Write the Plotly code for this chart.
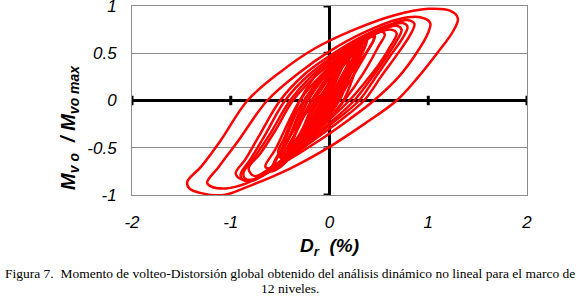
import plotly.graph_objects as go

# ---- data: hysteresis loops (Dr %, Mvo/Mvo max) ----
LOOP1_X = [-1.44, -1.30, -1.10, -0.83, -0.50, -0.15, 0.25, 0.65, 1.00, 1.22, 1.30, 1.25, 1.09, 0.90, 0.68, 0.35, 0.00, -0.40, -0.80, -1.07, -1.30, -1.42, -1.44]
LOOP1_Y = [-0.86, -0.70, -0.42, 0.00, 0.30, 0.55, 0.75, 0.90, 0.97, 0.95, 0.87, 0.73, 0.50, 0.25, 0.00, -0.25, -0.49, -0.72, -0.90, -1.00, -0.98, -0.93, -0.86]

LOOP2_X = [-1.24, -1.12, -0.92, -0.63, -0.30, 0.00, 0.35, 0.70, 0.92, 1.02, 1.00, 0.88, 0.70, 0.45, 0.20, -0.10, -0.50, -0.85, -1.05, -1.20, -1.24]
LOOP2_Y = [-0.87, -0.70, -0.42, 0.00, 0.30, 0.52, 0.72, 0.86, 0.88, 0.82, 0.72, 0.50, 0.25, 0.00, -0.20, -0.42, -0.68, -0.88, -0.93, -0.91, -0.87]

LOOP3_X = [-0.95, -0.85, -0.70, -0.50, -0.25, 0.00, 0.30, 0.60, 0.80, 0.86, 0.82, 0.68, 0.52, 0.35, 0.10, -0.20, -0.50, -0.75, -0.90, -0.95]
LOOP3_Y = [-0.77, -0.62, -0.35, 0.00, 0.28, 0.47, 0.66, 0.80, 0.85, 0.81, 0.70, 0.48, 0.25, 0.00, -0.22, -0.45, -0.68, -0.83, -0.83, -0.77]

LOOP4_X = [-0.90, -0.80, -0.65, -0.45, -0.20, 0.00, 0.28, 0.55, 0.74, 0.79, 0.74, 0.60, 0.45, 0.30, 0.05, -0.25, -0.55, -0.78, -0.88, -0.90]
LOOP4_Y = [-0.78, -0.62, -0.36, 0.00, 0.28, 0.44, 0.64, 0.77, 0.82, 0.78, 0.66, 0.45, 0.22, 0.00, -0.22, -0.47, -0.70, -0.85, -0.84, -0.78]

LOOP5_X = [-0.87, -0.76, -0.60, -0.40, -0.18, 0.00, 0.25, 0.50, 0.68, 0.73, 0.68, 0.55, 0.40, 0.25, 0.00, -0.30, -0.58, -0.78, -0.86, -0.87]
LOOP5_Y = [-0.76, -0.60, -0.35, 0.00, 0.26, 0.41, 0.60, 0.74, 0.79, 0.75, 0.63, 0.42, 0.20, 0.00, -0.24, -0.50, -0.72, -0.84, -0.82, -0.76]

LOOP6_X = [-0.82, -0.70, -0.55, -0.37, -0.15, 0.00, 0.22, 0.45, 0.62, 0.68, 0.62, 0.50, 0.35, 0.20, -0.05, -0.32, -0.58, -0.76, -0.82]
LOOP6_Y = [-0.72, -0.56, -0.32, 0.00, 0.25, 0.38, 0.56, 0.70, 0.75, 0.71, 0.58, 0.38, 0.18, 0.00, -0.25, -0.50, -0.70, -0.80, -0.72]

LOOP7_X = [-0.65, -0.55, -0.30, -0.10, 0.10, 0.35, 0.52, 0.56, 0.50, 0.35, 0.15, -0.10, -0.40, -0.60, -0.65]
LOOP7_Y = [-0.70, -0.52, 0.00, 0.25, 0.42, 0.62, 0.73, 0.70, 0.58, 0.30, 0.00, -0.30, -0.58, -0.72, -0.70]

LOOP8_X = [-0.55, -0.45, -0.22, -0.05, 0.12, 0.30, 0.43, 0.46, 0.40, 0.25, 0.08, -0.12, -0.38, -0.52, -0.55]
LOOP8_Y = [-0.66, -0.48, 0.00, 0.25, 0.43, 0.60, 0.70, 0.68, 0.55, 0.28, 0.00, -0.28, -0.55, -0.68, -0.66]

LOOP9_X = [-0.48, -0.38, -0.18, 0.00, 0.15, 0.30, 0.38, 0.34, 0.20, 0.05, -0.12, -0.32, -0.45, -0.48]
LOOP9_Y = [-0.60, -0.42, 0.00, 0.28, 0.46, 0.60, 0.64, 0.52, 0.25, 0.00, -0.25, -0.50, -0.62, -0.60]

LOOP10_X = [-0.42, -0.30, -0.12, 0.02, 0.18, 0.30, 0.33, 0.26, 0.12, 0.00, -0.15, -0.32, -0.42]
LOOP10_Y = [-0.55, -0.35, 0.00, 0.22, 0.45, 0.58, 0.56, 0.40, 0.15, -0.02, -0.25, -0.48, -0.55]

LOOP11_X = [-0.35, -0.25, -0.08, 0.08, 0.20, 0.26, 0.20, 0.05, -0.08, -0.22, -0.34, -0.35]
LOOP11_Y = [-0.50, -0.32, 0.00, 0.28, 0.45, 0.50, 0.38, 0.10, -0.10, -0.32, -0.48, -0.50]

LOOP12_X = [-0.28, -0.18, -0.04, 0.08, 0.18, 0.20, 0.12, 0.00, -0.12, -0.24, -0.28]
LOOP12_Y = [-0.42, -0.22, 0.05, 0.28, 0.42, 0.43, 0.25, 0.02, -0.20, -0.38, -0.42]

LOOP13_X = [-0.22, -0.14, -0.02, 0.06, 0.12, 0.13, 0.06, -0.04, -0.14, -0.21, -0.22]
LOOP13_Y = [-0.35, -0.18, 0.05, 0.22, 0.33, 0.35, 0.20, 0.00, -0.17, -0.31, -0.35]

LOOP14_X = [-0.15, -0.08, 0.00, 0.06, 0.09, 0.04, -0.04, -0.12, -0.15]
LOOP14_Y = [-0.25, -0.10, 0.08, 0.22, 0.28, 0.15, -0.02, -0.20, -0.25]

LOOP15_X = [-0.60, -0.50, -0.35, -0.15, 0.05, 0.10, 0.02, -0.15, -0.35, -0.52, -0.60]
LOOP15_Y = [-0.75, -0.55, -0.30, -0.02, 0.18, 0.15, -0.05, -0.30, -0.55, -0.72, -0.75]

LOOP16_X = [-0.10, 0.00, 0.15, 0.30, 0.42, 0.45, 0.38, 0.22, 0.08, -0.05, -0.10]
LOOP16_Y = [-0.05, 0.15, 0.38, 0.56, 0.68, 0.66, 0.52, 0.30, 0.10, -0.08, -0.05]

CORE1_X = [-0.50, -0.42, -0.25, -0.05, 0.15, 0.30, 0.33, 0.26, 0.10, -0.10, -0.30, -0.46, -0.50]
CORE1_Y = [-0.60, -0.42, 0.00, 0.30, 0.50, 0.62, 0.60, 0.42, 0.00, -0.28, -0.50, -0.62, -0.60]
CORE2_X = [-0.46, -0.38, -0.22, -0.05, 0.12, 0.27, 0.30, 0.22, 0.05, -0.12, -0.30, -0.43, -0.46]
CORE2_Y = [-0.62, -0.45, 0.00, 0.28, 0.46, 0.58, 0.55, 0.38, 0.00, -0.26, -0.50, -0.63, -0.62]
CORE3_X = [-0.52, -0.45, -0.30, -0.10, 0.12, 0.32, 0.36, 0.30, 0.14, -0.06, -0.28, -0.47, -0.52]
CORE3_Y = [-0.55, -0.38, 0.00, 0.32, 0.52, 0.65, 0.62, 0.44, 0.00, -0.25, -0.45, -0.57, -0.55]
CORE4_X = [-0.42, -0.34, -0.18, 0.00, 0.15, 0.26, 0.28, 0.22, 0.08, -0.08, -0.25, -0.39, -0.42]
CORE4_Y = [-0.50, -0.34, 0.00, 0.26, 0.44, 0.54, 0.52, 0.36, 0.00, -0.22, -0.40, -0.51, -0.50]
CORE5_X = [-0.38, -0.30, -0.15, 0.00, 0.12, 0.23, 0.25, 0.18, 0.02, -0.12, -0.26, -0.36, -0.38]
CORE5_Y = [-0.56, -0.38, 0.00, 0.24, 0.40, 0.49, 0.47, 0.32, 0.00, -0.24, -0.44, -0.57, -0.56]
CORE6_X = [-0.56, -0.48, -0.32, -0.15, 0.05, 0.18, 0.20, 0.12, -0.02, -0.20, -0.40, -0.53, -0.56]
CORE6_Y = [-0.66, -0.50, -0.10, 0.15, 0.34, 0.45, 0.42, 0.25, 0.00, -0.28, -0.52, -0.67, -0.66]
CORE7_X = [-0.30, -0.22, -0.08, 0.05, 0.18, 0.30, 0.32, 0.24, 0.10, -0.05, -0.20, -0.29, -0.30]
CORE7_Y = [-0.40, -0.22, 0.05, 0.28, 0.48, 0.60, 0.57, 0.40, 0.10, -0.15, -0.32, -0.41, -0.40]

LOOPS = [
    (LOOP1_X, LOOP1_Y), (LOOP2_X, LOOP2_Y), (LOOP3_X, LOOP3_Y), (LOOP4_X, LOOP4_Y),
    (LOOP5_X, LOOP5_Y), (LOOP6_X, LOOP6_Y), (LOOP7_X, LOOP7_Y), (LOOP8_X, LOOP8_Y),
    (LOOP9_X, LOOP9_Y), (LOOP10_X, LOOP10_Y), (LOOP11_X, LOOP11_Y), (LOOP12_X, LOOP12_Y),
    (LOOP13_X, LOOP13_Y), (LOOP14_X, LOOP14_Y), (LOOP15_X, LOOP15_Y), (LOOP16_X, LOOP16_Y),
    (CORE1_X, CORE1_Y), (CORE2_X, CORE2_Y), (CORE3_X, CORE3_Y), (CORE4_X, CORE4_Y),
    (CORE5_X, CORE5_Y), (CORE6_X, CORE6_Y), (CORE7_X, CORE7_Y),
]

X_TICKS = [-2, -1, 0, 1, 2]
X_TICKTEXT = ["-2", "-1", "0", "1", "2"]
Y_TICKS = [-1, -0.5, 0, 0.5, 1]
Y_TICKTEXT = ["-1", "-0.5", "0", "0.5", "1"]
X_MARKS = [-2, -1, 1, 2]
Y_MARKS = [-1, -0.5, 0.5, 1]

CAPTION_1 = "Figura 7.&nbsp; Momento de volteo-Distorsión global obtenido del análisis dinámico no lineal para el marco de"
CAPTION_2 = "12 niveles."

fig = go.Figure()
for lx, ly in LOOPS:
    fig.add_trace(go.Scatter(x=lx, y=ly, mode="lines",
                             line=dict(color="#ff0000", width=2.5, shape="spline", smoothing=1.0),
                             showlegend=False, hoverinfo="skip"))

shapes = []
for xv in X_MARKS:
    shapes.append(dict(type="line", xref="x", yref="y", x0=xv, x1=xv, y0=-0.05, y1=0.05,
                       line=dict(color="black", width=3), layer="below"))
for yv in Y_MARKS:
    shapes.append(dict(type="line", xref="x", yref="y", x0=-0.06, x1=0, y0=yv, y1=yv,
                       line=dict(color="black", width=3), layer="below"))

tickfont = dict(family="Liberation Sans, Arial", size=17, color="black", style="italic")
capfont = dict(family="Liberation Serif, Times New Roman", size=13.5, color="black")

fig.update_layout(
    width=580, height=299,
    margin=dict(l=132, r=53, t=6, b=104, autoexpand=False),
    paper_bgcolor="white", plot_bgcolor="white",
    showlegend=False,
    shapes=shapes,
    xaxis=dict(range=[-2, 2], tickvals=X_TICKS, ticktext=X_TICKTEXT, showgrid=False,
               zeroline=True, zerolinecolor="black", zerolinewidth=3,
               showline=True, linecolor="#8c8c8c", linewidth=1, mirror=True,
               ticks="", tickfont=tickfont, ticklabelstandoff=12,
               automargin=False, ticklabeloverflow="allow"),
    yaxis=dict(range=[-1, 1], tickvals=Y_TICKS, ticktext=Y_TICKTEXT, showgrid=True,
               gridcolor="#8c8c8c", gridwidth=1,
               zeroline=True, zerolinecolor="black", zerolinewidth=3,
               showline=True, linecolor="#8c8c8c", linewidth=1, mirror=True,
               ticks="", tickfont=tickfont, ticklabelstandoff=11,
               automargin=False, ticklabeloverflow="allow"),
    annotations=[
        dict(text="<b><i>M</i></b><sub><b><i>v o</i></b></sub><b><i>&nbsp;&nbsp;/&nbsp;M</i></b><sub><b><i>vo max</i></b></sub>",
             xref="paper", yref="paper", x=-0.157, y=0.36, xanchor="center", yanchor="middle",
             textangle=-90, showarrow=False,
             font=dict(family="Liberation Sans, Arial", size=20, color="black")),
        dict(text="<b><i>D</i></b><sub><b><i>r</i></b></sub><b><i>&nbsp;&nbsp;(%)</i></b>",
             xref="paper", yref="paper", x=0.5, y=-0.275, xanchor="center", yanchor="middle",
             showarrow=False,
             font=dict(family="Liberation Sans, Arial", size=19, color="black")),
        dict(text=CAPTION_1, xref="paper", yref="paper", x=0.4, y=-0.413,
             xanchor="center", yanchor="middle", showarrow=False, font=capfont),
        dict(text=CAPTION_2, xref="paper", yref="paper", x=0.4, y=-0.497,
             xanchor="center", yanchor="middle", showarrow=False, font=capfont),
    ],
)

fig.write_html("out.html", config={"displayModeBar": False},
               post_script="document.body.style.margin='0px';")
